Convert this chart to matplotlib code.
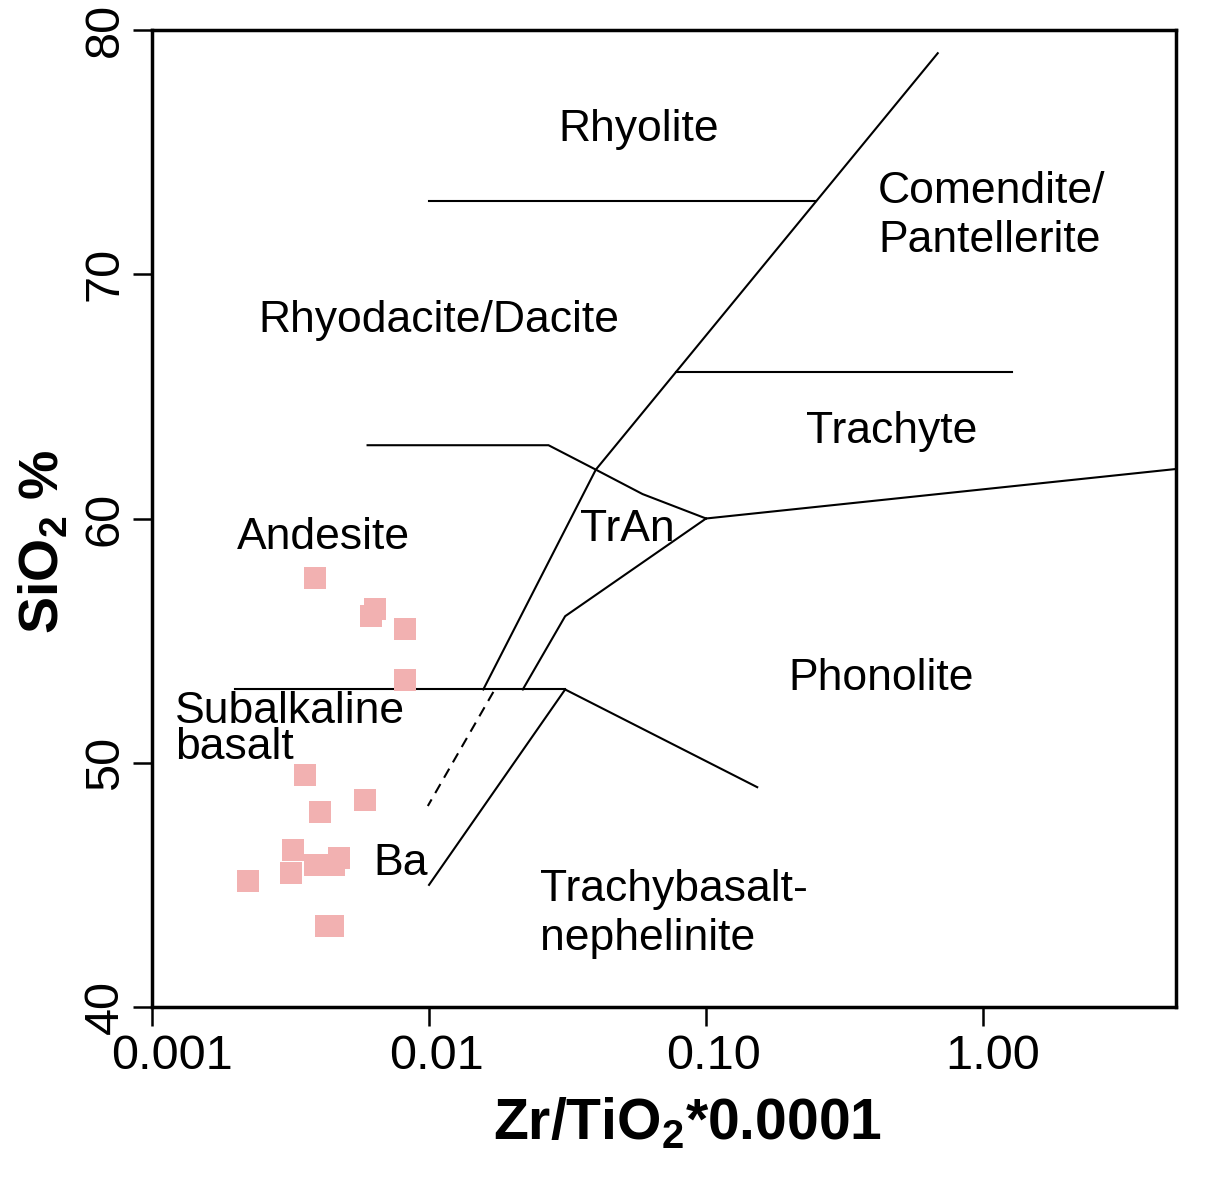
import matplotlib
matplotlib.use("Agg")
import matplotlib.pyplot as plt
import matplotlib.transforms as mtransforms

plt.rcParams['font.family'] = ['Liberation Sans', 'DejaVu Sans']
plt.rcParams['mathtext.fontset'] = 'custom'
plt.rcParams['mathtext.rm'] = 'Liberation Sans'
plt.rcParams['mathtext.bf'] = 'Liberation Sans:bold'

# ---- sample data (Zr/TiO2*0.0001, SiO2 %) ----
sample_x = [0.00389, 0.00637, 0.00619, 0.00817, 0.00817, 0.00356, 0.00586,
            0.00404, 0.00223, 0.00323, 0.00318, 0.00389, 0.00454, 0.00473,
            0.00425, 0.00449]
sample_y = [57.56, 56.31, 56.00, 55.49, 53.39, 49.51, 48.47,
            47.98, 45.14, 46.41, 45.47, 45.81, 45.81, 46.10,
            43.30, 43.30]

# ---- field boundaries (Winchester & Floyd 1977) ----
rhyolite_x = [0.01, 0.25];            rhyolite_y = [73, 73]
main_x = [0.0157, 0.04, 0.686];       main_y = [53, 62, 79.05]
andes_up_x = [0.006, 0.027, 0.04, 0.059, 0.1]; andes_up_y = [63, 63, 62, 61, 60]
trach_up_x = [0.078, 1.27];           trach_up_y = [66, 66]
trach_low_x = [0.1, 5.2];             trach_low_y = [60, 62.05]
tran_low_x = [0.1, 0.031, 0.0218];    tran_low_y = [60, 56, 53]
subalk_x = [0.002, 0.031];            subalk_y = [53, 53]
phon_low_x = [0.031, 0.153];          phon_low_y = [53, 49]
basalt_x = [0.031, 0.01];             basalt_y = [53, 45]
dashed_x = [0.01707, 0.0099];         dashed_y = [52.9, 48.23]

solid_lines = [(rhyolite_x, rhyolite_y), (main_x, main_y), (andes_up_x, andes_up_y),
               (trach_up_x, trach_up_y), (trach_low_x, trach_low_y),
               (tran_low_x, tran_low_y), (subalk_x, subalk_y),
               (phon_low_x, phon_low_y), (basalt_x, basalt_y)]

# ---- field labels (x, baseline y, text) ----
labels = [
    (0.0292, 75.46, "Rhyolite"),
    (0.418, 72.92, "Comendite/"),
    (0.418, 70.91, "Pantellerite"),
    (0.002414, 67.64, "Rhyodacite/Dacite"),
    (0.2296, 63.09, "Trachyte"),
    (0.002027, 58.75, "Andesite"),
    (0.03509, 59.09, "TrAn"),
    (0.1978, 52.98, "Phonolite"),
    (0.006296, 45.40, "Ba"),
    (0.02516, 44.34, "Trachybasalt-"),
    (0.02516, 42.33, "nephelinite"),
]
subalk_label = (0.00121, 50.14, "Subalkaline\nbasalt")

xticks = [0.001, 0.01, 0.1, 1.0]
xticklabels = ["0.001", "0.01", "0.10", "1.00"]
xtick_shift_px = [20, 7, 7, 10]
yticks = [40, 50, 60, 70, 80]

fig = plt.figure(figsize=(12.06, 11.77), dpi=100)
ax = fig.add_axes([152/1206, 1 - 1007/1177, 1024/1206, 977/1177])

for xs, ys in solid_lines:
    ax.plot(xs, ys, color='black', lw=1.5, solid_joinstyle='miter', zorder=2)
ax.plot(dashed_x, dashed_y, color='black', lw=1.5, dashes=(5, 3.5), zorder=2)

ax.plot(sample_x, sample_y, linestyle='none', marker='s', markersize=16.5,
        markerfacecolor='#F2B1B1', markeredgewidth=0, zorder=3)

for x, y, t in labels:
    ax.text(x, y, t, fontsize=32, ha='left', va='baseline', zorder=4)
ax.text(subalk_label[0], subalk_label[1], subalk_label[2], fontsize=32,
        ha='left', va='baseline', linespacing=0.84, zorder=4)

ax.set_xscale('log')
ax.set_xlim(0.001, 4.97)
ax.set_ylim(40, 80)
ax.set_xticks(xticks)
ax.set_xticklabels(xticklabels)
ax.xaxis.set_minor_locator(matplotlib.ticker.NullLocator())
ax.set_yticks(yticks)
ax.set_yticklabels([str(v) for v in yticks], rotation=90, va='center')

for s in ax.spines.values():
    s.set_linewidth(2.5)
ax.tick_params(axis='both', which='major', direction='out', length=13.5,
               width=1.8, labelsize=35, pad=6)
ax.tick_params(axis='y', pad=4)

for lab, dx in zip(ax.get_xticklabels(), xtick_shift_px):
    lab.set_transform(lab.get_transform() +
                      mtransforms.ScaledTranslation(dx / 100, 0, fig.dpi_scale_trans))

ax.set_xlabel(r'Zr/TiO$_\mathbf{2}$*0.0001', fontsize=41, fontweight='bold')
ax.xaxis.set_label_coords(0.523, -0.092)
ax.xaxis.label.set_va('top')
ax.set_ylabel(r'SiO$_\mathbf{2}$ %', fontsize=40, fontweight='bold')
ax.yaxis.set_label_coords(-0.080, 0.4765)

fig.savefig('out.png', dpi=100)
